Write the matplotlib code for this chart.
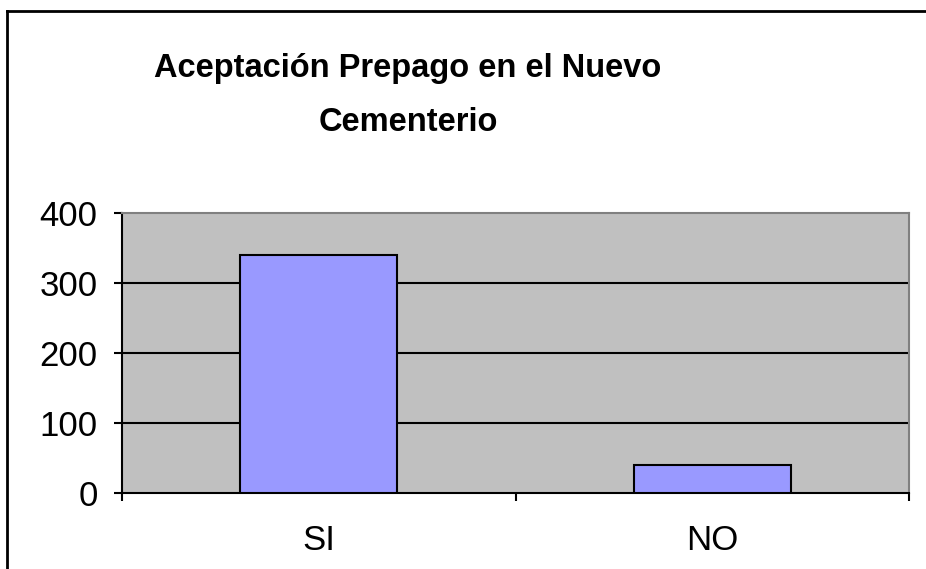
import matplotlib
matplotlib.use("Agg")
import matplotlib.pyplot as plt
from matplotlib.lines import Line2D

categories = ["SI", "NO"]
values = [340, 40]
yticks = [0, 100, 200, 300, 400]
title = "Aceptación Prepago en el Nuevo\nCementerio"

W, H = 926, 569
fig = plt.figure(figsize=(W / 100, H / 100), dpi=100)
fig.patch.set_facecolor("white")
plt.rcParams['font.family'] = ['Liberation Sans', 'DejaVu Sans']

ax = fig.add_axes([122 / W, 1 - 493 / H, (909 - 122) / W, (493 - 213) / H])
ax.set_facecolor("#C0C0C0")
x = list(range(len(categories)))
ax.bar(x, values, width=0.4, color="#9999FF", edgecolor="black", linewidth=1.5, zorder=3)
ax.set_xlim(-0.5, len(categories) - 0.5)
ax.set_ylim(0, 400)
ax.set_yticks(yticks)
ax.set_yticklabels([str(v) for v in yticks])
ax.set_xticks(x)
ax.set_xticklabels(categories)
ax.set_xticks([i - 0.5 for i in range(len(categories) + 1)], minor=True)
ax.tick_params(axis="x", which="major", length=0, pad=22, labelsize=25, colors="black")
ax.tick_params(axis="x", which="minor", length=6, width=1.5, direction="out", color="black")
ax.tick_params(axis="y", which="major", length=6, width=1.5, direction="out", pad=11.5, labelsize=25)
for v in yticks[1:-1]:
    ax.axhline(v, color="black", linewidth=1.5, zorder=1)
for s in ["left", "bottom"]:
    ax.spines[s].set_color("black")
    ax.spines[s].set_linewidth(1.5)
for s in ["top", "right"]:
    ax.spines[s].set_color("#808080")
    ax.spines[s].set_linewidth(1.5)

fig.text(408 / W, 1 - 95.5 / H, title, ha="center", va="center", fontsize=23.5,
         fontweight="bold", linespacing=1.93)

# outer chart border (top and left visible in crop)
fig.add_artist(Line2D([6.5 / W, 6.5 / W], [0, 1 - 10.5 / H], transform=fig.transFigure,
                      color="black", linewidth=2))
fig.add_artist(Line2D([6.5 / W, 1], [1 - 10.5 / H, 1 - 10.5 / H], transform=fig.transFigure,
                      color="black", linewidth=2))

fig.savefig("out.png", dpi=100)
